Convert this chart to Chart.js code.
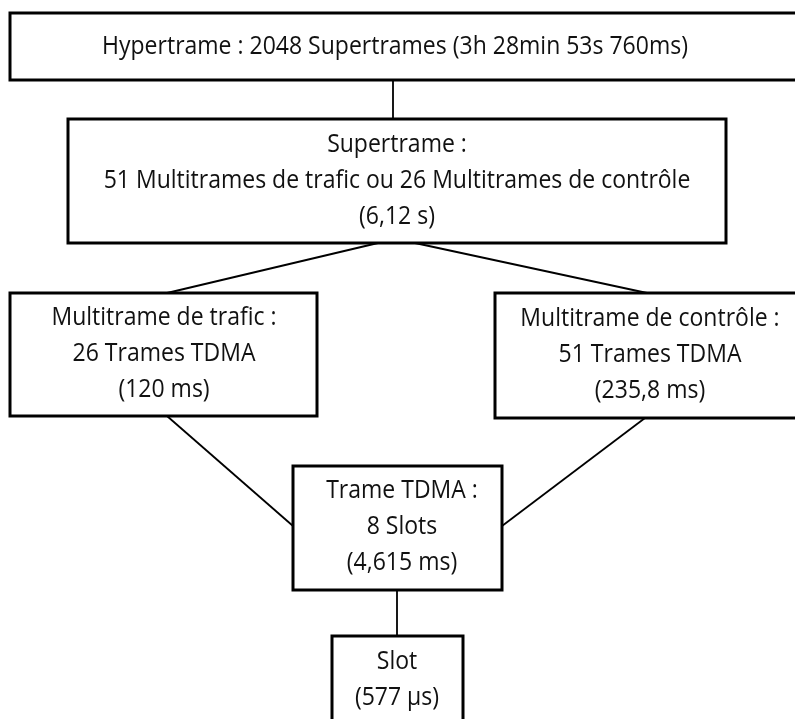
<!DOCTYPE html>
<html>
<head>
<meta charset="utf-8">
<script src="https://cdn.jsdelivr.net/npm/chart.js@4.4.1/dist/chart.umd.min.js"></script>
<style>
html,body{margin:0;padding:0;background:#fff;}
#wrap{width:795px;height:719px;position:relative;}
</style>
</head>
<body>
<div id="wrap"><canvas id="diagram"></canvas></div>
<script>
// boxes of the GSM frame hierarchy, in diagram units (0..795 x 0..719)
const nodeLines=[
  ["Hypertrame : 2048 Supertrames (3h 28min 53s 760ms)"],
  ["Supertrame :","51 Multitrames de trafic ou 26 Multitrames de contrôle","(6,12 s)"],
  ["Multitrame de trafic :","26 Trames TDMA","(120 ms)"],
  ["Multitrame de contrôle :","51 Trames TDMA","(235,8 ms)"],
  ["Trame TDMA :","8 Slots","(4,615 ms)"],
  ["Slot","(577 µs)"]
];
const boxLeft=[10,68,10,495,293,332];
const boxRight=[812,726,317,808,502,463];
const boxTop=[13,119,293,293,466,636];
const boxBottom=[80,243,416,418,590,726];
const textX=[395,397,164,650,402,397];
const textY=[47,181,354,355,527,680];
// connectors between boxes
const linkFrom=[[393,80],[378,243],[415,243],[167,416],[645,418],[397,590]];
const linkTo=[[393,119],[167,293],[647,293],[293,526],[502,526],[397,636]];

const lineGap=36,fontPx=25,squeeze=0.92;

const boxPlugin={
  id:"boxes",
  afterDatasetsDraw(chart){
    const ctx=chart.ctx,sx=chart.scales.x,sy=chart.scales.y;
    ctx.save();
    nodeLines.forEach((lines,i)=>{
      const x0=sx.getPixelForValue(boxLeft[i]),x1=sx.getPixelForValue(boxRight[i]);
      const y0=sy.getPixelForValue(boxTop[i]),y1=sy.getPixelForValue(boxBottom[i]);
      ctx.fillStyle="#fff";ctx.fillRect(x0,y0,x1-x0,y1-y0);
      ctx.strokeStyle="#000";ctx.lineWidth=3;ctx.strokeRect(x0,y0,x1-x0,y1-y0);
      ctx.fillStyle="#111";ctx.font=fontPx+'px "Open Sans"';ctx.textAlign="center";ctx.textBaseline="middle";
      const cx=sx.getPixelForValue(textX[i]),cy=sy.getPixelForValue(textY[i]);
      lines.forEach((t,k)=>{
        const y=cy+(k-(lines.length-1)/2)*lineGap;
        ctx.save();ctx.translate(cx,y);ctx.scale(squeeze,1);ctx.fillText(t,0,0);ctx.restore();
      });
    });
    ctx.restore();
  }
};

new Chart(document.getElementById("diagram"),{
  type:"scatter",
  data:{datasets:linkFrom.map((a,i)=>({
    data:[{x:a[0],y:a[1]},{x:linkTo[i][0],y:linkTo[i][1]}],
    showLine:true,pointRadius:0,borderColor:"#000",borderWidth:1.8
  }))},
  options:{
    responsive:true,maintainAspectRatio:false,animation:false,
    layout:{padding:0},
    plugins:{legend:{display:false},tooltip:{enabled:false}},
    scales:{
      x:{type:"linear",min:0,max:795,display:false},
      y:{type:"linear",min:0,max:719,reverse:true,display:false}
    }
  },
  plugins:[boxPlugin]
});
</script>
</body>
</html>
